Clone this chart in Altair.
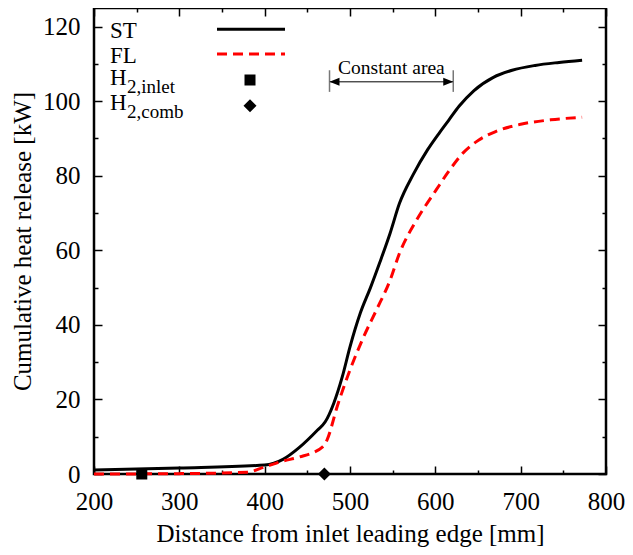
import altair as alt
import pandas as pd

# ---------------- data ----------------
st_x = [200, 300, 400, 422, 440, 462, 471, 481, 491, 500, 512, 524, 535, 547, 558, 574, 591, 605, 616, 628, 645, 668, 690, 717, 745, 772]
st_y = [1.1, 1.6, 2.4, 4.0, 7.0, 11.8, 14.0, 19.0, 26.1, 34.1, 43.1, 50.0, 56.8, 64.6, 72.6, 80.3, 87.0, 91.6, 95.0, 98.7, 102.8, 106.4, 108.3, 109.6, 110.4, 111.0]

fl_x = [200, 300, 380, 400, 422, 440, 468, 473, 485, 500, 516, 531, 547, 558, 578, 601, 616, 632, 651, 670, 700, 735, 772]
fl_y = [0.0, 0.1, 0.5, 1.9, 3.5, 4.5, 7.3, 9.1, 18.1, 27.9, 36.8, 44.0, 52.0, 59.2, 68.1, 76.2, 81.3, 86.0, 89.6, 91.8, 93.8, 95.0, 95.7]

h2_inlet_x = [256]
h2_comb_x = [470]
marker_y = [0]

x_major = [200, 300, 400, 500, 600, 700, 800]
x_minor = [250, 350, 450, 550, 650, 750]
y_major = [0, 20, 40, 60, 80, 100, 120]
y_minor = [10, 30, 50, 70, 90, 110]

ann_x = [476, 621]
ann_y = [105.2]
ann_bar = [102.5, 108.3]
ann_text_y = [107.2]
ann_label = "Constant area"

x_title = "Distance from inlet leading edge [mm]"
y_title = "Cumulative heat release [kW]"

FONT = "Liberation Serif"
W, H = 512, 466

xs = alt.Scale(domain=[200, 800], nice=False, zero=False)
ys = alt.Scale(domain=[0, 125], nice=False, zero=False)


def axis(orient, values, size, labels, **kw):
    return alt.Axis(orient=orient, values=values, tickSize=size, offset=-size,
                    domain=False, grid=False, labels=labels, labelFlush=False,
                    tickColor="black", tickWidth=1.5, labelFont=FONT, labelFontSize=25,
                    labelColor="black", titleFont=FONT, titleFontSize=25,
                    titleFontWeight="normal", titleColor="black", **kw)


st_df = pd.DataFrame({"x": st_x, "y": st_y})
fl_df = pd.DataFrame({"x": fl_x, "y": fl_y})
sq_df = pd.DataFrame({"x": h2_inlet_x, "y": marker_y})
di_df = pd.DataFrame({"x": h2_comb_x, "y": marker_y})

st = alt.Chart(st_df).mark_line(color="black", strokeWidth=3, interpolate="monotone").encode(
    x=alt.X("x:Q", scale=xs, axis=axis("bottom", x_major, 8, True, title=x_title,
                                        labelPadding=15, titleY=75, titleBaseline="alphabetic")),
    y=alt.Y("y:Q", scale=ys, axis=axis("left", y_major, 8, True, title=y_title,
                                        labelPadding=14, titleX=-72, titleBaseline="alphabetic")),
)
fl = alt.Chart(fl_df).mark_line(color="#ff0000", strokeWidth=3, strokeDash=[10, 6],
                                interpolate="monotone").encode(
    x=alt.X("x:Q", scale=xs, axis=axis("bottom", x_minor, 4, False, title=None)),
    y=alt.Y("y:Q", scale=ys, axis=axis("left", y_minor, 4, False, title=None)),
)
sq = alt.Chart(sq_df).mark_point(shape="square", filled=True, color="black", size=121, opacity=1).encode(
    x=alt.X("x:Q", scale=xs, axis=axis("top", x_major, 8, False, title=None)),
    y=alt.Y("y:Q", scale=ys, axis=axis("right", y_major, 8, False, title=None)),
)
di = alt.Chart(di_df).mark_point(shape="diamond", filled=True, color="black", size=169, opacity=1).encode(
    x=alt.X("x:Q", scale=xs, axis=axis("top", x_minor, 4, False, title=None)),
    y=alt.Y("y:Q", scale=ys, axis=axis("right", y_minor, 4, False, title=None)),
)

# annotation: "Constant area"
arr_df = pd.DataFrame({"x": [ann_x[0]], "x2": [ann_x[1]], "y": ann_y})
arrow = alt.Chart(arr_df).mark_rule(color="black", strokeWidth=1).encode(
    x=alt.X("x:Q", scale=xs, axis=None), x2="x2:Q", y=alt.Y("y:Q", scale=ys, axis=None))
bar_df = pd.DataFrame({"x": ann_x, "y": [ann_bar[0]] * 2, "y2": [ann_bar[1]] * 2})
bars = alt.Chart(bar_df).mark_rule(color="#777777", strokeWidth=1.5).encode(
    x=alt.X("x:Q", scale=xs, axis=None), y=alt.Y("y:Q", scale=ys, axis=None), y2="y2:Q")
head_df = pd.DataFrame({"x": ann_x, "y": ann_y * 2,
                        "s": ["M0,0L1,-0.4L1,0.4Z", "M0,0L-1,-0.4L-1,0.4Z"]})
heads = alt.Chart(head_df).mark_point(filled=True, color="black", size=400, opacity=1).encode(
    x=alt.X("x:Q", scale=xs, axis=None), y=alt.Y("y:Q", scale=ys, axis=None),
    shape=alt.Shape("s:N", scale=None))
txt_df = pd.DataFrame({"x": [sum(ann_x) / 2], "y": ann_text_y})
ann_txt = alt.Chart(txt_df).mark_text(text=ann_label, font=FONT, fontSize=19.5, color="black",
                                      align="center", baseline="alphabetic").encode(
    x=alt.X("x:Q", scale=xs, axis=None), y=alt.Y("y:Q", scale=ys, axis=None))

# manual legend (gnuplot style key)
one = pd.DataFrame({"a": [0]})


def ltext(t, x, y, size=23):
    return alt.Chart(one).mark_text(text=t, font=FONT, fontSize=size, color="black",
                                    align="left", baseline="alphabetic").encode(
        x=alt.value(x), y=alt.value(y))


leg = [
    ltext("ST", 16, 30),
    ltext("FL", 16, 55),
    ltext("H", 16, 77), ltext("2,inlet", 33, 85, 19),
    ltext("H", 16, 102), ltext("2,comb", 33, 110, 19),
    alt.Chart(one).mark_rule(color="black", strokeWidth=3).encode(
        x=alt.value(123), x2=alt.value(191), y=alt.value(21.3)),
    alt.Chart(one).mark_rule(color="#ff0000", strokeWidth=3, strokeDash=[10, 6]).encode(
        x=alt.value(123), x2=alt.value(191), y=alt.value(46)),
    alt.Chart(one).mark_point(shape="square", filled=True, color="black", size=121, opacity=1).encode(
        x=alt.value(156), y=alt.value(72)),
    alt.Chart(one).mark_point(shape="diamond", filled=True, color="black", size=169, opacity=1).encode(
        x=alt.value(156), y=alt.value(97.7)),
]

chart = alt.layer(st, fl, sq, di, arrow, bars, heads, ann_txt, *leg).resolve_axis(
    x="independent", y="independent"
).properties(
    width=W, height=H,
    autosize=alt.AutoSizeParams(type="none"),
    padding={"left": 86, "top": 0, "right": 19, "bottom": 73},
).configure_view(
    stroke="black", strokeWidth=2.5
)

chart.save("out.html", embed_options={"renderer": "svg", "actions": False})
